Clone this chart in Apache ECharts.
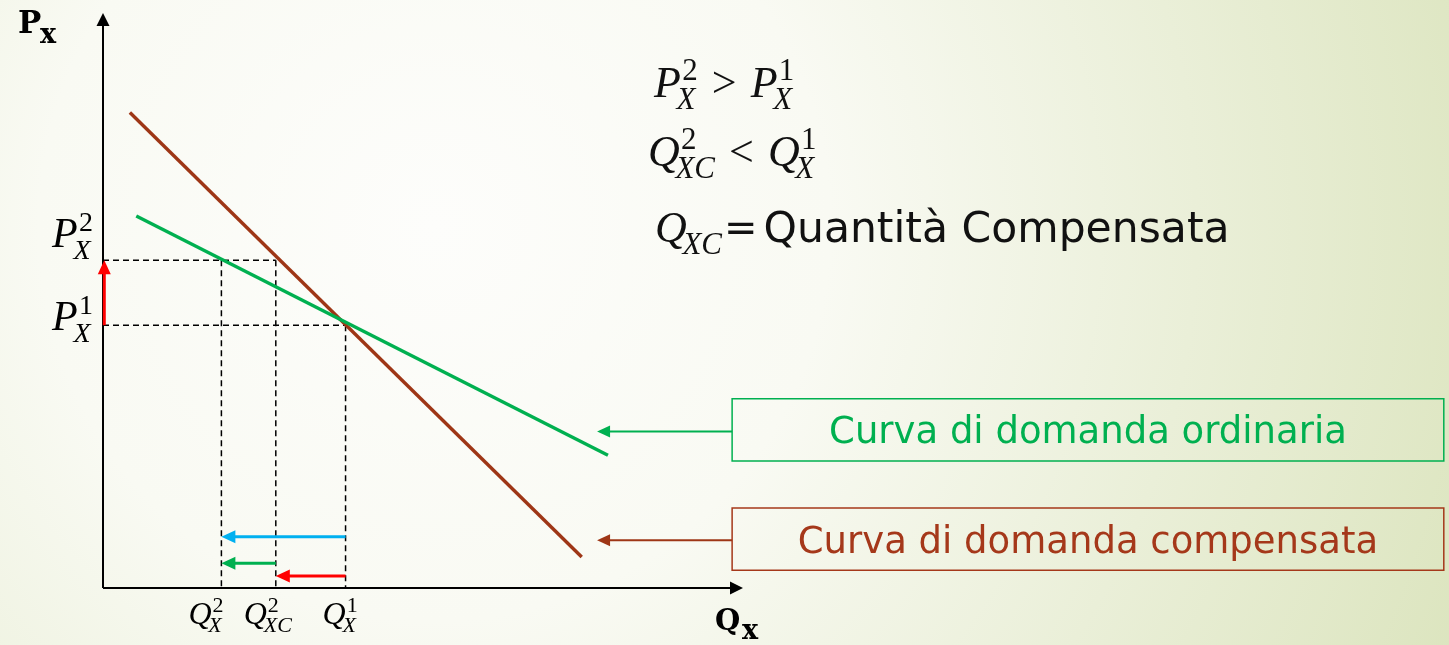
<!DOCTYPE html>
<html><head><meta charset="utf-8">
<script src="https://cdn.jsdelivr.net/npm/echarts@6/dist/echarts.min.js"></script>
<style>html,body{margin:0;padding:0;background:#fff}#c{width:1449px;height:645px}</style>
</head><body><div id="c"></div>
<script>
// ---------------- data ----------------
const xRange = [0, 21];
const yRange = [0, 10];
const axisEnds = [10, 10];                     // x-axis length, y-axis length (data units)
const priceLevels = [4.57, 5.70];              // P1, P2
const priceTickLabels = [['P', '1', 'X'], ['P', '2', 'X']];
const quantityLevels = [1.85, 2.70, 3.79];     // Q2, QXC, Q1
const quantityTickLabels = [['Q', '2', 'X'], ['Q', '2', 'XC'], ['Q', '1', 'X']];
const ordinaryDemand = [[0.52, 6.47], [7.89, 2.31]];
const compensatedDemand = [[0.42, 8.27], [7.48, 0.54]];
const effectArrowHeights = [0.89, 0.43, 0.21];  // total, income, substitution
const priceArrowX = 0.02;
const curveLabels = ['Curva di domanda ordinaria', 'Curva di domanda compensata'];
const curveLabelBoxes = [[9.83, 20.95, 2.21, 3.29], [9.83, 20.95, 0.31, 1.39]];
const calloutArrowY = [2.72, 0.83];
const calloutTipX = 7.72;
const axisNames = [['P', 'x'], ['Q', 'x']];
const noteLines = [
  [{v: 'P'}, {sup: '2', sub: 'X'}, {op: '>'}, {v: 'P'}, {sup: '1', sub: 'X'}],
  [{v: 'Q'}, {sup: '2', sub: 'XC'}, {op: '<'}, {v: 'Q'}, {sup: '1', sub: 'X'}],
  [{v: 'Q'}, {sub: 'XC'}, {eq: '='}, {text: 'Quantità Compensata'}]
];

// ---------------- styles ----------------
const GREEN = '#00b050', BROWN = '#9e3616', BROWN_TXT = '#a5381a', BLUE = '#00b0f0', RED = '#ff0000', INK = '#000000';
const SERIF = '"Liberation Serif", serif';
const SANS = '"DejaVu Sans", sans-serif';

const [P1, P2] = priceLevels;
const [Q2, QXC, Q1] = quantityLevels;
const guideSegments = [[0, P2, QXC, P2], [0, P1, Q1, P1], [Q2, P2, Q2, 0], [QXC, P2, QXC, 0], [Q1, P1, Q1, 0]];

function arrowRenderer(lw, headLen, headW) {
  return function (params, api) {
    const p1 = api.coord([api.value(0), api.value(1)]);
    const p2 = api.coord([api.value(2), api.value(3)]);
    const color = api.visual('color');
    const dx = p2[0] - p1[0], dy = p2[1] - p1[1];
    const len = Math.hypot(dx, dy) || 1;
    const ux = dx / len, uy = dy / len, hw = headW / 2;
    const bx = p2[0] - ux * headLen, by = p2[1] - uy * headLen;
    return {
      type: 'group', children: [
        {type: 'line', shape: {x1: p1[0], y1: p1[1], x2: bx + ux, y2: by + uy}, style: {stroke: color, lineWidth: lw}},
        {type: 'polygon', shape: {points: [[p2[0], p2[1]], [bx - uy * hw, by + ux * hw], [bx + uy * hw, by - ux * hw]]}, style: {fill: color}}
      ]
    };
  };
}

const chart = echarts.init(document.getElementById('c'), null, {renderer: 'canvas'});
chart.setOption({
  animation: false,
  backgroundColor: {
    type: 'radial', x: 0.3, y: 0.35, r: 1.75,
    colorStops: [{offset: 0, color: '#fdfdfb'}, {offset: 0.35, color: '#f9faf3'}, {offset: 1, color: '#dbe4bd'}]
  },
  grid: {left: 103, top: 13, width: 1344, height: 575},
  xAxis: {type: 'value', min: xRange[0], max: xRange[1], show: false},
  yAxis: {type: 'value', min: yRange[0], max: yRange[1], show: false},
  series: [
    { // dashed guides
      type: 'custom', z: 1, clip: false, silent: true,
      encode: {x: [0, 2], y: [1, 3]},
      data: guideSegments,
      renderItem: function (params, api) {
        const a = api.coord([api.value(0), api.value(1)]);
        const b = api.coord([api.value(2), api.value(3)]);
        return {type: 'line', shape: {x1: a[0], y1: a[1], x2: b[0], y2: b[1]},
          style: {stroke: INK, lineWidth: 1.5, lineDash: [6, 4]}};
      }
    },
    {type: 'line', z: 2, data: compensatedDemand, showSymbol: false, symbol: 'none', silent: true,
      lineStyle: {color: BROWN, width: 3.4}},
    {type: 'line', z: 2, data: ordinaryDemand, showSymbol: false, symbol: 'none', silent: true,
      lineStyle: {color: GREEN, width: 3.4}},
    { // axes
      type: 'custom', z: 3, clip: false, silent: true, encode: {x: [0, 2], y: [1, 3]},
      itemStyle: {color: INK},
      data: [[0, 0, 0, axisEnds[1]], [0, 0, axisEnds[0], 0]],
      renderItem: arrowRenderer(2, 13, 13)
    },
    { // effect arrows
      type: 'custom', z: 4, clip: false, silent: true, encode: {x: [0, 2], y: [1, 3]},
      data: [
        {value: [priceArrowX, P1, priceArrowX, P2], itemStyle: {color: RED}},
        {value: [Q1, effectArrowHeights[0], Q2, effectArrowHeights[0]], itemStyle: {color: BLUE}},
        {value: [QXC, effectArrowHeights[1], Q2, effectArrowHeights[1]], itemStyle: {color: GREEN}},
        {value: [Q1, effectArrowHeights[2], QXC, effectArrowHeights[2]], itemStyle: {color: RED}}
      ],
      renderItem: arrowRenderer(3, 14, 13)
    },
    { // callout arrows
      type: 'custom', z: 4, clip: false, silent: true, encode: {x: [0, 2], y: [1, 3]},
      data: [
        {value: [curveLabelBoxes[0][0], calloutArrowY[0], calloutTipX, calloutArrowY[0]], itemStyle: {color: GREEN}},
        {value: [curveLabelBoxes[1][0], calloutArrowY[1], calloutTipX, calloutArrowY[1]], itemStyle: {color: BROWN}}
      ],
      renderItem: arrowRenderer(2, 13, 12)
    },
    { // label boxes
      type: 'custom', z: 4, clip: false, silent: true, encode: {x: [0, 1], y: [2, 3]},
      data: [
        {value: curveLabelBoxes[0], itemStyle: {color: GREEN}},
        {value: curveLabelBoxes[1], itemStyle: {color: BROWN_TXT}}
      ],
      renderItem: function (params, api) {
        const tl = api.coord([api.value(0), api.value(3)]);
        const br = api.coord([api.value(1), api.value(2)]);
        const color = api.visual('color');
        return {type: 'group', children: [
          {type: 'rect', shape: {x: tl[0], y: tl[1], width: br[0] - tl[0], height: br[1] - tl[1]},
            style: {fill: 'none', stroke: color, lineWidth: 1.5}},
          {type: 'text', x: (tl[0] + br[0]) / 2, y: (tl[1] + br[1]) / 2 + 4,
            style: {text: curveLabels[params.dataIndex], font: '37px ' + SANS, fill: color,
              align: 'center', verticalAlign: 'middle', textAlign: 'center', textVerticalAlign: 'middle'}}
        ]};
      }
    }
  ]
});

// ---------------- text annotations (placed through the axis scales) ----------------
const mctx = document.createElement('canvas').getContext('2d');
function tw(str, font) { mctx.font = font; return mctx.measureText(str).width; }
function putText(els, str, x, baseline, font, size, color) {
  els.push({type: 'text', x: x, y: baseline - 0.34 * size, silent: true, z: 100,
    style: {text: str, font: font, fill: color, align: 'left', verticalAlign: 'middle',
      textAlign: 'left', textVerticalAlign: 'middle'}});
}
function mathRun(els, x, base, tokens, S, s, color) {
  let cx = x;
  tokens.forEach(function (t) {
    if (t.v) {
      const f = 'italic ' + S + 'px ' + SERIF;
      putText(els, t.v, cx, base, f, S, color); cx += tw(t.v, f);
    } else if (t.sup !== undefined || t.sub !== undefined) {
      let w = 0;
      if (t.sup) { const f = s + 'px ' + SERIF; putText(els, t.sup, cx + 0.03 * S, base - 0.4 * S, f, s, color); w = Math.max(w, 0.03 * S + tw(t.sup, f)); }
      if (t.sub) { const f = 'italic ' + s + 'px ' + SERIF; putText(els, t.sub, cx - 0.1 * S, base + 0.25 * S, f, s, color); w = Math.max(w, -0.1 * S + tw(t.sub, f)); }
      cx += w;
    } else if (t.op) {
      const f = S + 'px ' + SERIF; cx += 0.32 * S;
      putText(els, t.op, cx, base, f, S, color); cx += tw(t.op, f) + 0.32 * S;
    } else if (t.eq) {
      const f = '40px ' + SANS; cx += 2;
      putText(els, t.eq, cx, base - 1, f, 40, color); cx += tw(t.eq, f) + 6;
    } else if (t.text) {
      const f = '42.5px ' + SANS;
      putText(els, t.text, cx, base, f, 42.5, color); cx += tw(t.text, f);
    }
  });
  return cx;
}

const els = [];
// price tick labels (left of y axis)
const priceLabelDy = [8, -10];
priceLevels.forEach(function (p, i) {
  const pt = chart.convertToPixel({gridIndex: 0}, [0, p]);
  const lb = priceTickLabels[i];
  mathRun(els, pt[0] - 51, pt[1] + priceLabelDy[i], [{v: lb[0]}, {sup: lb[1], sub: lb[2]}], 42, 28, INK);
});
// quantity tick labels (below x axis)
const qLabelDx = [-33, -32, -23];
quantityLevels.forEach(function (q, i) {
  const pt = chart.convertToPixel({gridIndex: 0}, [q, 0]);
  const lb = quantityTickLabels[i];
  mathRun(els, pt[0] + qLabelDx[i], pt[1] + 38, [{v: lb[0]}, {sup: lb[1], sub: lb[2]}], 32, 22, INK);
});
// axis names
const yTop = chart.convertToPixel({gridIndex: 0}, [0, axisEnds[1]]);
const xEnd = chart.convertToPixel({gridIndex: 0}, [axisEnds[0], 0]);
putText(els, axisNames[0][0], yTop[0] - 85, yTop[1] + 22, 'bold 31px "DejaVu Serif"', 31, INK);
putText(els, axisNames[0][1], yTop[0] - 63, yTop[1] + 32, 'bold 27px "DejaVu Serif"', 27, INK);
putText(els, axisNames[1][0], xEnd[0] - 28, xEnd[1] + 44, 'bold 29px "DejaVu Serif"', 29, INK);
putText(els, axisNames[1][1], xEnd[0] - 1, xEnd[1] + 53, 'bold 27px "DejaVu Serif"', 27, INK);
// notes (top right)
const noteStart = [[654, 100], [648, 169], [655, 245]];
noteLines.forEach(function (tokens, i) {
  mathRun(els, noteStart[i][0], noteStart[i][1], tokens, 44, 31, '#111111');
});

chart.setOption({graphic: {elements: els}});
</script>
</body></html>
